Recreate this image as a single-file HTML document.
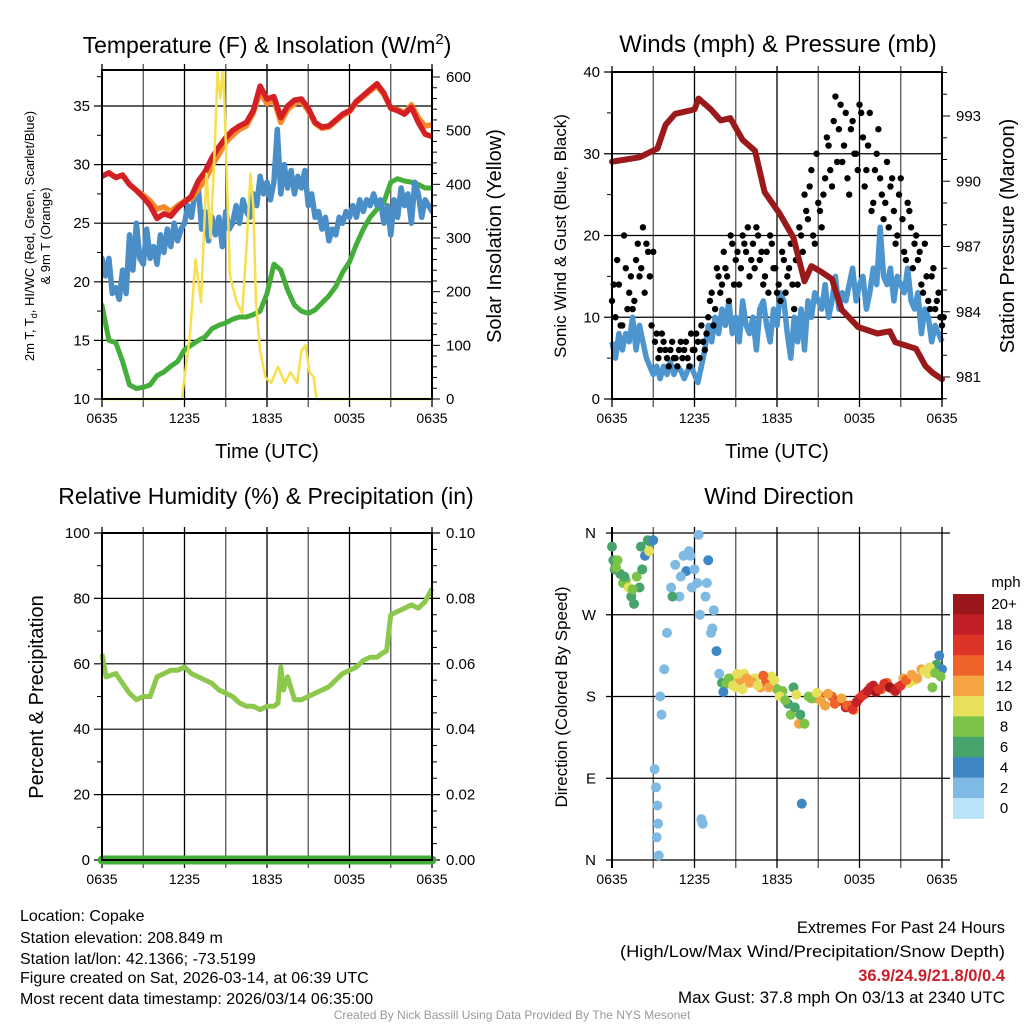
<!DOCTYPE html>
<html><head><meta charset="utf-8"><style>
html,body{margin:0;padding:0;background:#fff;}
svg{display:block;font-family:"Liberation Sans",sans-serif;}
</style></head><body>
<svg id="fig" width="1024" height="1024" viewBox="0 0 1024 1024" xmlns="http://www.w3.org/2000/svg">
<defs>
<clipPath id="clip1"><rect x="102" y="70" width="330" height="332"/></clipPath>
</defs>
<rect width="1024" height="1024" fill="#fff"/>
<g id="p1"></g>
<g id="p2"></g>
<g id="p3"></g>
<g id="p4"></g>
<g font-size="16" fill="#000">
<text x="20" y="921">Location: Copake</text>
<text x="20" y="943">Station elevation: 208.849 m</text>
<text x="20" y="964">Station lat/lon: 42.1366; -73.5199</text>
<text x="20" y="983">Figure created on Sat, 2026-03-14, at 06:39 UTC</text>
<text x="20" y="1004">Most recent data timestamp: 2026/03/14 06:35:00</text>
</g>
<g font-size="16.5" text-anchor="end">
<text x="1005" y="933">Extremes For Past 24 Hours</text>
<text x="1005" y="957" textLength="385" lengthAdjust="spacingAndGlyphs">(High/Low/Max Wind/Precipitation/Snow Depth)</text>
<text x="1005" y="981" fill="#c8202a" font-weight="bold">36.9/24.9/21.8/0/0.4</text>
<text x="1005" y="1003" textLength="327" lengthAdjust="spacingAndGlyphs">Max Gust: 37.8 mph On 03/13 at 2340 UTC</text>
</g>
<text x="512" y="1019" text-anchor="middle" font-size="12" fill="#999">Created By Nick Bassill Using Data Provided By The NYS Mesonet</text>
</svg>
<script>
// ---------- DATA ----------
const xTickLabels = ["0635","1235","1835","0035","0635"];
// Panel 1 (hours since 0635)
const tempT = [0,0.5,1,1.5,2,2.5,3,3.5,4,4.5,5,5.5,6,6.5,7,7.5,8,8.5,9,9.5,10,10.5,11,11.5,12,12.5,13,13.5,14,14.5,15,15.5,16,16.5,17,17.5,18,18.5,19,19.5,20,20.5,21,21.5,22,22.5,23,23.5,24];
const tempRed = [29,29.3,28.9,29.1,28.3,27.8,27.2,26.5,25.4,25.8,25.6,26.3,26.8,27.3,28.6,29.4,30.6,31.5,32.3,32.9,33.3,33.6,34.6,36.7,35.6,35.8,34.0,35.0,35.5,35.6,34.8,33.6,33.2,33.3,33.8,34.3,34.6,35.4,35.9,36.4,36.9,36.1,34.8,34.6,34.3,34.9,33.6,32.6,32.4];
const tempOrange = [29,29.3,28.9,29.1,28.3,27.8,27.4,26.9,26.2,26.4,26.0,26.5,26.9,27.1,27.9,28.7,29.9,30.9,31.9,32.5,33.0,33.3,34.4,36.2,35.2,35.5,33.6,34.7,35.2,35.4,34.6,33.5,33.1,33.2,33.7,34.2,34.5,35.3,35.8,36.3,36.7,36.0,34.8,34.7,34.4,35.1,34.0,33.3,33.4];
const blueT = [0,0.25,0.5,0.75,1,1.25,1.5,1.75,2,2.25,2.5,2.75,3,3.25,3.5,3.75,4,4.25,4.5,4.75,5,5.25,5.5,5.75,6,6.25,6.5,6.75,7,7.25,7.5,7.75,8,8.25,8.5,8.75,9,9.25,9.5,9.75,10,10.25,10.5,10.75,11,11.25,11.5,11.75,12,12.25,12.5,12.75,13,13.25,13.5,13.75,14,14.25,14.5,14.75,15,15.25,15.5,15.75,16,16.25,16.5,16.75,17,17.25,17.5,17.75,18,18.25,18.5,18.75,19,19.25,19.5,19.75,20,20.25,20.5,20.75,21,21.25,21.5,21.75,22,22.25,22.5,22.75,23,23.25,23.5,23.75,24];
const tempBlue = [22,20.5,22,19,19.5,18.5,21,19,24,21,25,22,21.5,24.5,22,23,21.5,24,22.5,24.5,23,25,23.5,24.5,25,26.5,25.5,27.5,28,24.5,26,23.5,25.5,24,25.5,23,26,24.5,25,26.5,25,27,26,25.5,27.5,26.5,29,27.5,28.5,27,28.5,33,27.5,30,28,29.5,27.5,29,28,29.5,26.5,27.5,25.5,26,24.5,25.5,23.5,24.5,24,25.5,25,26,25.5,26.5,25.5,27,26,27,26.5,27.5,26.5,27,25,26.5,24,27,25.5,28,26.5,27.5,25,28.5,27.5,25.5,27,26.5,26];
const tempGreen = [18,15,14.8,13.2,11.2,10.9,11,11.2,12,12.3,12.8,13.2,14.2,14.6,15,15.3,16,16.3,16.5,16.8,17,17,17.2,17.5,19,21.5,21,19.3,18,17.5,17.3,17.6,18.2,18.8,19.6,20.8,21.7,23.2,24.5,25.5,26.2,26.8,28.5,28.8,28.6,28.5,28.3,28,28];
const solarT = [0,5.8,6.4,6.8,7.2,7.6,7.9,8.2,8.4,8.6,8.8,9.0,9.3,9.8,10.2,10.5,10.8,11.0,11.2,11.5,11.9,12.3,12.8,13.3,13.7,14.2,14.5,14.8,15.1,15.4,15.6,24];
const solarV = [0,0,120,260,180,420,300,470,610,560,620,480,230,180,160,280,420,360,180,90,40,30,60,30,50,30,90,100,50,40,0,0];
// Panel 2
const windT = blueT;
const windV = [7,5,8,6,8,7,10,6,9,7,5,4,3,4,2.5,4,3,4.5,3,4,3.5,2.5,3.5,4,3,2,4,6,9,7,10,8,11,9,12,8,10,7,12,9,8,10,6,11,12,9,7,11,9,13,12,8,5,10,7,11,6,12,10,13,12,11,14,10,12,15,11,13,12,14,16,12,14,15,11,13,16,14,21,15,14,16,12,15,14,13,16,12,11,13,8,11,10,7,9,8,7];
const gustV = [12,10,14,9,16,13,11,17,15,21,19,15,18,8,6,7,5,6,5,4,7,6,5,8,6,7,9,6,10,13,11,15,14,16,12,19,17,14,20,18,15,19,21,17,14,18,20,16,13,12,17,15,19,11,14,20,25,22,28,19,24,21,27,31,26,37,33,29,35,25,34,30,36,32,28,35,24,30,27,22,29,26,23,20,27,18,24,21,19,17,14,19,12,15,11,13,9];
const gustV2 = [14,17,9,20,11,15,12,19,16,13,18,9,7,5,8,6,4,7,5,6,5,7,4,6,8,5,7,8,12,9,16,13,18,15,20,14,18,16,19,21,17,16,20,18,15,13,19,16,14,18,13,16,14,17,21,18,23,26,20,30,23,25,32,28,34,29,36,31,27,33,30,28,35,26,31,23,28,33,25,24,21,27,19,25,22,17,23,16,20,18,13,15,11,16,12,10,10];
const presT = [0,1,2,3.3,3.9,4.6,6,6.3,7.2,7.9,8.6,9.5,10.4,11.1,12.2,13.2,14,14.5,15.3,16,16.7,17.9,19.3,20.2,20.6,22.1,22.8,23.3,24];
const presV = [990.9,991.0,991.1,991.5,992.6,993.1,993.3,993.8,993.3,992.8,992.9,991.9,991.4,989.5,988.5,987.4,985.4,986.1,985.8,985.5,984.1,983.3,983.0,983.1,982.6,982.3,981.5,981.2,980.9];
// Panel 3
const rhT = [0,0.3,1,1.5,2,2.5,3,3.5,4,4.5,5,5.5,6,6.5,7,7.5,8,8.5,9,9.5,10,10.5,11,11.5,12,12.5,12.8,13,13.2,13.5,14,14.5,15,15.5,16,16.5,17,17.5,18,18.5,19,19.5,20,20.3,20.7,21,21.5,22,22.5,23,23.5,24];
const rhV = [63,56,57,54,51,49,50,50,56,57,58,58,59,57,56,55,54,52,51,50,48,47,47,46,47,47,48,59,52,56,49,49,50,51,52,53,55,57,58,59,61,62,62,63,64,75,76,77,78,77,79,83];
const precipV = [0,0,0,0,0,0,0,0,0,0,0,0,0,0,0,0,0,0,0,0,0,0,0,0,0];
// Panel 4
const dirT = [0,0.1,0.2,0.4,0.6,0.8,1,1.2,1.4,1.6,1.8,2.0,2.2,2.4,2.6,2.8,3.0,3.1,3.2,3.25,3.3,3.35,3.4,3.5,3.6,3.8,4.0,4.3,4.6,4.9,5.2,5.4,5.6,5.8,6.0,6.2,6.3,6.4,6.5,6.6,6.8,7.0,7.2,7.4,7.6,7.8,8.0,8.3,8.6,9.0,9.3,9.6,10.0,10.4,10.8,11.2,11.6,12.0,12.4,12.8,13.0,13.2,13.4,13.6,13.8,14.0,14.3,14.7,15.0,15.5,16.0,16.5,17.0,17.3,17.6,18.0,18.4,18.8,19.2,19.6,20.0,20.4,20.8,21.2,21.6,22.0,22.5,23.0,23.3,23.6,23.8,24.0,
  0.3,0.9,1.5,2.1,2.7,4.4,5.0,5.7,6.9,7.3,8.1,8.5,8.8,9.1,9.5,9.8,10.2,10.6,11.0,11.4,11.8,12.2,12.6,13.3,13.7,14.5,14.9,15.2,15.7,16.2,16.7,17.1,17.5,17.8,18.2,18.6,19.0,19.4,19.8,20.2,20.6,21.0,21.4,21.8,22.2,22.7,23.1,23.5,23.9];
const dirD = [345,330,320,330,315,305,308,300,290,282,312,300,320,335,352,350,352,100,80,25,60,40,5,180,160,210,250,300,325,290,335,318,340,300,320,305,358,270,45,40,290,330,250,275,230,205,195,194,200,190,198,205,195,200,190,196,202,188,186,172,160,190,182,150,62,150,180,178,182,170,180,175,168,170,165,178,183,190,185,188,195,188,190,200,195,198,210,205,190,215,225,210,
  322,312,298,345,340,290,312,335,305,255,185,200,192,205,188,200,196,192,203,190,198,180,176,168,160,178,184,175,183,172,178,170,166,174,181,186,192,188,194,190,186,192,198,204,200,208,212,206,202];
const dirS = [7,6,7,8,6,9,8,11,7,6,8,7,6,5,6,6,5,3,3,3,2,3,3,3,2,3,2,2,3,2,3,4,2,3,2,3,3,3,3,3,2,4,2,3,5,2,6,8,10,11,12,10,13,11,12,14,10,9,8,7,9,6,10,12,4,8,9,13,14,12,15,17,18,17,12,16,19,17,20,15,14,13,16,12,11,10,12,10,8,6,4,5,8,
  7,8,7,10,6,3,2,3,2,4,8,10,11,10,12,13,11,14,12,10,11,9,7,6,8,10,13,12,14,13,15,16,18,17,19,18,16,17,20,18,16,15,13,12,10,11,8,9,7];
const cbLabels = ["20+","18","16","14","12","10","8","6","4","2","0"];
const cbColors = ["#9b171b","#c21f26","#dd3427","#ef6329","#f5a443","#e6e05a","#7bc249","#47a46c","#3f87c4","#7ebae3","#b8e3f8"];

// ---------- HELPERS ----------
const NS="http://www.w3.org/2000/svg";
function mk(parent,tag,attrs){const e=document.createElementNS(NS,tag);for(const k in attrs)e.setAttribute(k,attrs[k]);parent.appendChild(e);return e;}
function txt(parent,x,y,s,size,anchor,extra){const e=mk(parent,"text",Object.assign({x:x,y:y,"font-size":size,"text-anchor":anchor||"middle"},extra||{}));e.textContent=s;return e;}
function colorFor(s){let i=Math.min(10,Math.floor(s/2));return cbColors[10-i];}

function panelFrame(g,L,R,T,B){
  const xs=h=>L+(R-L)*h/24;
  for(let h=0;h<=24;h+=3){
    const l=mk(g,"line",{x1:xs(h),x2:xs(h),y1:T-6,y2:B+8,stroke:(h%6===0)?"#000":"#555","stroke-width":1.3});
    
    
  }
  xTickLabels.forEach((s,i)=>{
    const t=txt(g,xs(i*6),B+24,s,14);
    
    
  });
  return xs;
}

// ---------- PANEL 1 ----------
(function(){
  const g=document.getElementById("p1");
  const L=102,R=432,T=70,B=399;
  const xs=panelFrame(g,L,R,T,B);
  const ys=v=>B-(v-10)*(B-106)/25;
  const ysR=v=>B-v*(B-77)/600;
  for(let v=10;v<=35;v+=5){
    const l=mk(g,"line",{x1:L-8,x2:R,y1:ys(v),y2:ys(v),stroke:"#000","stroke-width":1.2});
    
    
    const t=txt(g,L-12,ys(v)+5,String(v),15,"end");
    
    
  }
  for(let v=12.5;v<38;v+=5) mk(g,"line",{x1:L-5,x2:L,y1:ys(v),y2:ys(v),stroke:"#000"});
  for(let v=0;v<=600;v+=20){const maj=v%100===0;mk(g,"line",{x1:R,x2:R+(maj?8:5),y1:ysR(v),y2:ysR(v),stroke:"#000"});
    if(maj){const t=txt(g,R+14,ysR(v)+5,String(v),15,"start");}}
  const cg=mk(g,"g",{"clip-path":"url(#clip1)"});
  function line(T_,V,f,col,w,name){
    const pts=T_.map((h,i)=>xs(h).toFixed(1)+","+f(V[i]).toFixed(1)).join(" ");
    const p=mk(cg,"polyline",{points:pts,fill:"none",stroke:col,"stroke-width":w,"stroke-linejoin":"round","stroke-linecap":"round"});
    
    
  }
  line(tempT,tempGreen,ys,"#45ad3a",5,"dewpoint-line");
  line(blueT,tempBlue,ys,"#4a8ec8",5.5,"heat-index-wind-chill-line");
  line(tempT,tempOrange,ys,"#f58a2a",5.5,"temp-9m-line");
  line(tempT,tempRed,ys,"#d42025",5.5,"temp-2m-line");
  line(solarT,solarV,ysR,"#f7e04b",2.5,"solar-line");
  mk(g,"rect",{x:L,y:T,width:R-L,height:B-T,fill:"none",stroke:"#000","stroke-width":2});
  const tt=mk(g,"text",{x:267,y:53,"font-size":23,"text-anchor":"middle"});
  tt.innerHTML='Temperature (F) &amp; Insolation (W/m<tspan dy="-9" font-size="15">2</tspan><tspan dy="9">)</tspan>';
  
  const xl=txt(g,267,458,"Time (UTC)",20);
  const yl=mk(g,"text",{transform:"translate(42,236) rotate(-90)","font-size":13,"text-anchor":"middle"});
  yl.innerHTML='<tspan x="0" dy="-8">2m T, T<tspan font-size="9" dy="3">d</tspan><tspan dy="-3">, HI/WC (Red, Green, Scarlet/Blue)</tspan></tspan><tspan x="0" dy="16">&amp; 9m T (Orange)</tspan>';
  
  const yr=mk(g,"text",{transform:"translate(501,236) rotate(-90)","font-size":20,"text-anchor":"middle"});yr.textContent="Solar Insolation (Yellow)";
  
})();

// ---------- PANEL 2 ----------
(function(){
  const g=document.getElementById("p2");
  const L=612,R=942,T=72,B=399;
  const xs=panelFrame(g,L,R,T,B);
  const ys=v=>B-v*(B-T)/40;
  const ysR=v=>116+(993-v)*21.75;
  for(let v=0;v<=40;v+=10){
    const l=mk(g,"line",{x1:L-8,x2:R,y1:ys(v),y2:ys(v),stroke:"#000","stroke-width":1.2});
    
    const t=txt(g,L-12,ys(v)+5,String(v),15,"end");
  }
  for(let v=5;v<40;v+=10) mk(g,"line",{x1:L-5,x2:L,y1:ys(v),y2:ys(v),stroke:"#000"});
  for(let v=980;v<=995;v++){const y=ysR(v);if(y<T||y>B)continue;const maj=(v-981)%3===0;mk(g,"line",{x1:R,x2:R+(maj?8:5),y1:y,y2:y,stroke:"#000"});
    if(maj){const t=txt(g,R+14,y+5,String(v),15,"start");}}
  const wp=windT.map((h,i)=>xs(h).toFixed(1)+","+ys(windV[i]).toFixed(1)).join(" ");
  const wl=mk(g,"polyline",{points:wp,fill:"none",stroke:"#4d95cf","stroke-width":5.5,"stroke-linejoin":"round"});
  
  gustV.forEach((v,i)=>{const c=mk(g,"circle",{cx:xs(i*0.25),cy:ys(v),r:3.2,fill:"#000"});
    });
  gustV2.forEach((v,i)=>{const c=mk(g,"circle",{cx:xs(i*0.25+0.125),cy:ys(v),r:3.2,fill:"#000"});
    });
  const pp=presT.map((h,i)=>xs(h).toFixed(1)+","+ysR(presV[i]).toFixed(1)).join(" ");
  const pl=mk(g,"polyline",{points:pp,fill:"none",stroke:"#9a1a1c","stroke-width":6,"stroke-linejoin":"round","stroke-linecap":"round"});
  
  mk(g,"rect",{x:L,y:T,width:R-L,height:B-T,fill:"none",stroke:"#000","stroke-width":2});
  const tt=txt(g,778,52,"Winds (mph) & Pressure (mb)",24);
  const xl=txt(g,777,458,"Time (UTC)",20);
  const yl=mk(g,"text",{transform:"translate(566,236) rotate(-90)","font-size":17,"text-anchor":"middle"});yl.textContent="Sonic Wind & Gust (Blue, Black)";
  
  const yr=mk(g,"text",{transform:"translate(1014,236) rotate(-90)","font-size":20,"text-anchor":"middle"});yr.textContent="Station Pressure (Maroon)";
  
})();

// ---------- PANEL 3 ----------
(function(){
  const g=document.getElementById("p3");
  const L=102,R=432,T=533,B=860;
  const xs=panelFrame(g,L,R,T,B);
  const ys=v=>B-v*(B-T)/100;
  for(let v=0;v<=100;v+=20){
    const l=mk(g,"line",{x1:L-8,x2:R+8,y1:ys(v),y2:ys(v),stroke:"#000","stroke-width":1.2});
    
    const t=txt(g,L-12,ys(v)+5,String(v),15,"end");
    const t2=txt(g,R+14,ys(v)+5,(v/1000).toFixed(2),15,"start");
  }
  for(let v=10;v<100;v+=20){mk(g,"line",{x1:L-5,x2:L,y1:ys(v),y2:ys(v),stroke:"#000"});}
  for(let v=5;v<100;v+=5){if(v%20)mk(g,"line",{x1:R,x2:R+5,y1:ys(v),y2:ys(v),stroke:"#000"});}
  const pr=precipV.map((v,i)=>xs(i)+","+ys(v*1000)).join(" ");
  const pl=mk(g,"polyline",{points:pr,fill:"none",stroke:"#45ad3a","stroke-width":9,"stroke-linecap":"round"});
  
  const rp=rhT.map((h,i)=>xs(h).toFixed(1)+","+ys(rhV[i]).toFixed(1)).join(" ");
  const rl=mk(g,"polyline",{points:rp,fill:"none",stroke:"#8cc84b","stroke-width":5,"stroke-linejoin":"round"});
  
  mk(g,"rect",{x:L,y:T,width:R-L,height:B-T,fill:"none",stroke:"#000","stroke-width":2});
  const tt=txt(g,266,504,"Relative Humidity (%) & Precipitation (in)",23);
  const yl=mk(g,"text",{transform:"translate(43,697) rotate(-90)","font-size":20,"text-anchor":"middle"});yl.textContent="Percent & Precipitation";
  
})();

// ---------- PANEL 4 ----------
(function(){
  const g=document.getElementById("p4");
  const L=612,R=942,T=533,B=860;
  const xs=panelFrame(g,L,R,T,B);
  const ys=d=>B-d*(B-T)/360;
  const dl=["N","E","S","W","N"];
  [0,90,180,270,360].forEach((d,i)=>{
    const l=mk(g,"line",{x1:L-6,x2:R+8,y1:ys(d),y2:ys(d),stroke:"#000","stroke-width":1.2});
    
    const t=txt(g,L-16,ys(d)+5,dl[i],15,"end");
  });
  mk(g,"line",{x1:L,x2:L,y1:T-6,y2:B+8,stroke:"#000","stroke-width":2});
  dirT.forEach((h,i)=>{const c=mk(g,"circle",{cx:xs(h),cy:ys(dirD[i]),r:5,fill:colorFor(dirS[i])});
    });
  const tt=txt(g,779,504,"Wind Direction",23);
  const yl=mk(g,"text",{transform:"translate(567,697) rotate(-90)","font-size":17,"text-anchor":"middle"});yl.textContent="Direction (Colored By Speed)";
  
  const cb=mk(g,"g",{});
  
  const h=20.4;
  cbColors.forEach((c,i)=>{mk(cb,"rect",{x:953,y:594+i*h,width:31,height:h+0.5,fill:c});
    const t=txt(cb,1004,594+i*h+h/2+5,cbLabels[i],15,"middle");});
  const mt=txt(cb,1006,587,"mph",15,"middle");
})();
</script>
</body></html>
